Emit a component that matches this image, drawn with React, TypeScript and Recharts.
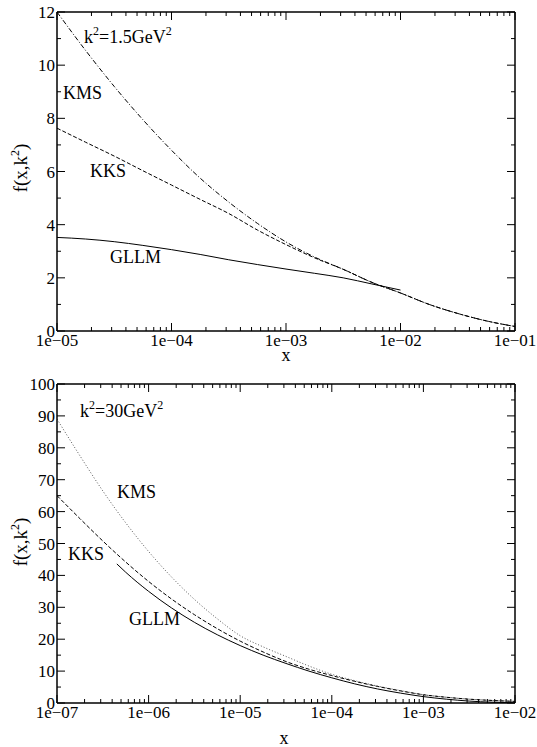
import React from "react";
import { LineChart, Line, XAxis, YAxis } from "recharts";

const FONT = "Liberation Serif, DejaVu Serif, Times New Roman, serif";

// ---- top panel: k^2 = 1.5 GeV^2 ----
const topXMajor = [1e-5, 1e-4, 1e-3, 1e-2, 1e-1];
const topYMajor = [0, 2, 4, 6, 8, 10, 12];
const topYMinor = [1, 3, 5, 7, 9, 11];

const topGrid = [1e-5, 1.78e-5, 3.16e-5, 5.62e-5, 1e-4, 1.78e-4, 3.16e-4, 5.62e-4, 1e-3, 1.78e-3, 3.16e-3, 5.62e-3, 1e-2, 1.78e-2, 3.16e-2, 5.62e-2, 1e-1];
const kmsTopY = [12, 10.55, 9.2, 7.95, 6.8, 5.75, 4.85, 4.05, 3.35, 2.78, 2.32, 1.83, 1.43, 1.0, 0.66, 0.38, 0.17];
const kksTopY = [7.63, 7.1, 6.58, 6.03, 5.49, 4.95, 4.42, 3.8, 3.25, 2.75, 2.32, 1.83, 1.43, 1.0, 0.66, 0.38, 0.17];

const gllmTopX = [1e-5, 1.78e-5, 3.16e-5, 5.62e-5, 1e-4, 1.78e-4, 3.16e-4, 5.62e-4, 1e-3, 1.78e-3, 3.16e-3, 5.62e-3, 1e-2];
const gllmTopY = [3.52, 3.46, 3.36, 3.22, 3.06, 2.88, 2.68, 2.5, 2.33, 2.17, 2.0, 1.77, 1.54];

// ---- bottom panel: k^2 = 30 GeV^2 ----
const botXMajor = [1e-7, 1e-6, 1e-5, 1e-4, 1e-3, 1e-2];
const botYMajor = [0, 10, 20, 30, 40, 50, 60, 70, 80, 90, 100];
const botYMinor = [5, 15, 25, 35, 45, 55, 65, 75, 85, 95];

const botGrid = [
  1e-7, 1.78e-7, 3.16e-7, 5.62e-7, 1e-6, 1.78e-6, 3.16e-6, 5.62e-6, 1e-5, 1.78e-5, 3.16e-5, 5.62e-5,
  1e-4, 1.78e-4, 3.16e-4, 5.62e-4, 1e-3, 1.78e-3, 3.16e-3, 5.62e-3, 1e-2,
];
const kmsBotY = [89, 77.5, 66.5, 56.5, 47.5, 39.5, 32.5, 26.4, 21.1, 17.6, 14.6, 11.6, 9.0, 7.0, 5.3, 3.9, 2.6, 1.8, 1.2, 0.8, 0.5];
const kksBotY = [65, 57.8, 50.8, 44.2, 38.1, 32.6, 27.7, 23.3, 19.4, 16.0, 13.0, 10.6, 8.6, 6.8, 5.2, 3.8, 2.6, 1.8, 1.2, 0.8, 0.5];

const gllmBotX = [4.5e-7, 5.62e-7, 1e-6, 1.78e-6, 3.16e-6, 5.62e-6, 1e-5, 1.78e-5, 3.16e-5, 5.62e-5, 1e-4, 1.78e-4, 3.16e-4, 5.62e-4, 1e-3, 1.78e-3, 3.16e-3, 5.62e-3, 1e-2];
const gllmBotY = [43.6, 41.0, 35.0, 29.8, 25.3, 21.4, 18.0, 15.0, 12.4, 10.0, 7.9, 6.0, 4.4, 3.1, 2.0, 1.2, 0.6, 0.25, 0.05];

const zip = (xs: number[], ys: number[]) => xs.map((x, i) => ({ x, y: ys[i] }));

// majors plus 2..9 of every decade
const withMinors = (majors: number[]) => {
  const out: number[] = [];
  majors.forEach((d, i) => {
    out.push(d);
    if (i < majors.length - 1) for (let m = 2; m <= 9; m++) out.push(m * d);
  });
  return out;
};

const isMajor = (v: number) => Math.abs(Math.log10(v) - Math.round(Math.log10(v))) < 1e-6;

const fmtExp = (v: number) => {
  const e = Math.round(Math.log10(v));
  return "1e" + (e < 0 ? "\u2212" : "+") + String(Math.abs(e)).padStart(2, "0");
};

const BottomTick = (props: any) => {
  const { x, y, payload } = props;
  const major = isMajor(payload.value);
  return (
    <g>
      <line x1={x} y1={y} x2={x} y2={y - (major ? 8 : 4)} stroke="#000" strokeWidth={1} />
      {major && (
        <text x={x} y={y + 15} textAnchor="middle" style={{ fontFamily: FONT }} fontSize={17} fill="#000">
          {fmtExp(payload.value)}
        </text>
      )}
    </g>
  );
};

const TopTick = (props: any) => {
  const { x, y, payload } = props;
  const major = isMajor(payload.value);
  return <line x1={x} y1={y} x2={x} y2={y + (major ? 8 : 4)} stroke="#000" strokeWidth={1} />;
};

const makeLeftTick = (majors: number[]) => (props: any) => {
  const { x, y, payload } = props;
  const major = majors.includes(payload.value);
  return (
    <g>
      <line x1={x} y1={y} x2={x + (major ? 8 : 4)} y2={y} stroke="#000" strokeWidth={1} />
      {major && (
        <text x={x - 2} y={y + 6} textAnchor="end" style={{ fontFamily: FONT }} fontSize={17} fill="#000">
          {payload.value}
        </text>
      )}
    </g>
  );
};

const makeRightTick = (majors: number[]) => (props: any) => {
  const { x, y, payload } = props;
  const major = majors.includes(payload.value);
  return <line x1={x} y1={y} x2={x - (major ? 8 : 4)} y2={y} stroke="#000" strokeWidth={1} />;
};

type Series = { data: { x: number; y: number }[]; dash?: string; color?: string };

function Panel(props: {
  top: number;
  height: number;
  topH: number;
  bottomH: number;
  xMajor: number[];
  yMajor: number[];
  yMinor: number[];
  series: Series[];
}) {
  const { top, height, topH, bottomH, xMajor, yMajor, yMinor, series } = props;
  const xDomain = [xMajor[0], xMajor[xMajor.length - 1]];
  const yDomain = [yMajor[0], yMajor[yMajor.length - 1]];
  const xTicks = withMinors(xMajor);
  const yTicks = [...yMajor, ...yMinor].sort((a, b) => a - b);
  const axisLine = { stroke: "#000", strokeWidth: 1.5 };

  return (
    <div style={{ position: "absolute", left: 0, top }}>
      <LineChart width={537} height={height} margin={{ top: 0, right: 0, bottom: 0, left: 0 }}>
        <XAxis
          xAxisId="b"
          dataKey="x"
          type="number"
          scale="log"
          domain={xDomain}
          allowDataOverflow
          ticks={xTicks}
          interval={0}
          height={bottomH}
          tickSize={0}
          tickMargin={0}
          tickLine={false}
          axisLine={axisLine}
          tick={BottomTick}
        />
        <XAxis
          xAxisId="t"
          orientation="top"
          dataKey="x"
          type="number"
          scale="log"
          domain={xDomain}
          allowDataOverflow
          ticks={xTicks}
          interval={0}
          height={topH}
          tickSize={0}
          tickMargin={0}
          tickLine={false}
          axisLine={axisLine}
          tick={TopTick}
        />
        <YAxis
          yAxisId="l"
          type="number"
          domain={yDomain}
          allowDataOverflow
          ticks={yTicks}
          interval={0}
          width={57}
          tickSize={0}
          tickMargin={0}
          tickLine={false}
          axisLine={axisLine}
          tick={makeLeftTick(yMajor)}
        />
        <YAxis
          yAxisId="r"
          orientation="right"
          type="number"
          domain={yDomain}
          allowDataOverflow
          ticks={yTicks}
          interval={0}
          width={22}
          tickSize={0}
          tickMargin={0}
          tickLine={false}
          axisLine={axisLine}
          tick={makeRightTick(yMajor)}
        />
        {series.map((s, i) => (
          <Line
            key={i}
            xAxisId="b"
            yAxisId="l"
            data={s.data}
            dataKey="y"
            type="monotone"
            stroke={s.color || "#000"}
            strokeWidth={1}
            strokeDasharray={s.dash}
            dot={false}
            activeDot={false}
            isAnimationActive={false}
          />
        ))}
      </LineChart>
    </div>
  );
}

const Sup = ({ children }: { children: React.ReactNode }) => (
  <tspan fontSize={12} dy={-8}>
    {children}
  </tspan>
);

export default function App() {
  const txt = { style: { fontFamily: FONT }, fill: "#000" };
  return (
    <div style={{ position: "absolute", left: 0, top: 0, width: 537, height: 747, background: "#fff" }}>
      <Panel
        top={0}
        height={370}
        topH={12}
        bottomH={39}
        xMajor={topXMajor}
        yMajor={topYMajor}
        yMinor={topYMinor}
        series={[
          { data: zip(topGrid, kmsTopY), dash: "5 2 1 2" },
          { data: zip(topGrid, kksTopY), dash: "4 2" },
          { data: zip(gllmTopX, gllmTopY) },
        ]}
      />
      <Panel
        top={370}
        height={377}
        topH={14}
        bottomH={44}
        xMajor={botXMajor}
        yMajor={botYMajor}
        yMinor={botYMinor}
        series={[
          { data: zip(botGrid, kmsBotY), dash: "1 2", color: "#555" },
          { data: zip(botGrid, kksBotY), dash: "4 2" },
          { data: zip(gllmBotX, gllmBotY) },
        ]}
      />
      <svg width={537} height={747} style={{ position: "absolute", left: 0, top: 0, pointerEvents: "none" }}>
        {/* top panel labels */}
        <text x={84} y={43} fontSize={18} {...txt}>
          k<Sup>2</Sup>
          <tspan dy={8}>=1.5GeV</tspan>
          <Sup>2</Sup>
        </text>
        <text x={63} y={99} fontSize={18} {...txt}>KMS</text>
        <text x={90} y={177} fontSize={18} {...txt}>KKS</text>
        <text x={110} y={263} fontSize={18} {...txt}>GLLM</text>
        <text x={286} y={361} fontSize={18} textAnchor="middle" {...txt}>x</text>
        <text x={0} y={0} fontSize={19} textAnchor="middle" transform="translate(27,168) rotate(-90)" {...txt}>
          f(x,k<Sup>2</Sup>
          <tspan dy={8}>)</tspan>
        </text>

        {/* bottom panel labels */}
        <text x={80} y={417} fontSize={18} {...txt}>
          k<Sup>2</Sup>
          <tspan dy={8}>=30GeV</tspan>
          <Sup>2</Sup>
        </text>
        <text x={117} y={498} fontSize={18} {...txt}>KMS</text>
        <text x={68} y={560} fontSize={18} {...txt}>KKS</text>
        <text x={129} y={625} fontSize={18} {...txt}>GLLM</text>
        <text x={284} y={744} fontSize={18} textAnchor="middle" {...txt}>x</text>
        <text x={0} y={0} fontSize={19} textAnchor="middle" transform="translate(27,542) rotate(-90)" {...txt}>
          f(x,k<Sup>2</Sup>
          <tspan dy={8}>)</tspan>
        </text>
      </svg>
    </div>
  );
}
